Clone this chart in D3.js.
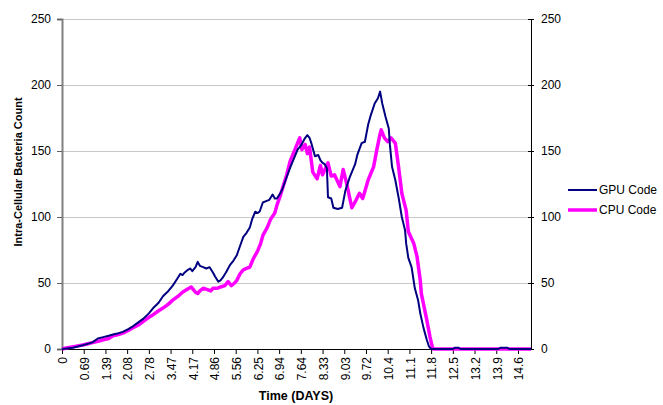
<!DOCTYPE html>
<html>
<head>
<meta charset="utf-8">
<script src="https://cdn.jsdelivr.net/npm/d3@7"></script>
<style>
  body { margin: 0; background: #fff; }
  text { font-family: "Liberation Sans", Arial, sans-serif; }
</style>
</head>
<body>
<div id="chart"></div>
<script>
// time axis is a category axis: one step = 50 minutes, label every 20 steps
var tickSteps = [0,20,40,60,80,100,120,140,160,180,200,220,240,260,280,300,320,340,360,380,400,420];
var tickLabels = ["0","0.69","1.39","2.08","2.78","3.47","4.17","4.86","5.56","6.25","6.94","7.64","8.33","9.03","9.72","10.4","11.1","11.8","12.5","13.2","13.9","14.6"];
var countTicks = [0,50,100,150,200,250];

var gpuStep  = [0,10,20,28,33,38,43,47,52,56,61,65,70,75,80,84,89,93,98,102,106,109,111,113,116,118,120,123,125,127,130,133,136,139,141,144,146,148,151,155,158,161,164,167,170,173,175,178,180,182,185,188,191,194,196,198,201,203,206,210,213,217,220,224,226,228,230,233,236,238,240,242,244,245,248,250,254,258,261,265,270,272,276,279,282,284,286,288,291,293,295,298,301,302,304,307,310,313,316,317,319,322,325,328,330,333,336,338,340,360,362,365,367,402,404,410,412,432];
var gpuCount = [0,1,3,5,8,9,10,11,12,13,15,17,20,23,27,31,35,40,44,48,53,57,56,58,60,61,59,62,66,63,62,61,62,58,55,51,52,54,58,64,67,71,78,85,88,92,98,104,103,104,111,112,113,117,114,114,118,121,128,137,143,151,154,160,162,160,155,146,147,143,141,140,137,115,114,107,106,107,120,130,140,147,156,157,170,176,181,186,190,195,186,176,167,155,138,128,115,100,90,80,69,62,46,37,27,16,7,2,0,0,1,1,0,0,1,1,0,0];

var cpuStep  = [0,5,12,19,24,29,34,38,43,47,52,56,61,65,70,75,80,84,89,93,98,102,107,111,115,119,121,123,125,127,130,134,137,139,143,146,150,153,156,159,161,164,167,170,173,176,180,183,185,189,192,196,198,201,204,207,210,215,218,219,221,224,226,228,231,235,238,240,245,248,251,256,259,262,267,271,274,277,282,287,290,293,294,297,300,303,307,310,313,317,319,324,327,330,331,334,336,339,341,342,432];
var cpuCount = [0,1,2,3,4,5,6,7,8,10,11,12,14,16,18,21,24,26,29,31,34,37,40,43,45,47,45,43,42,44,46,45,44,46,46,47,48,51,48,50,52,57,60,61,62,68,74,80,86,92,98,103,109,116,124,132,142,152,158,160,151,155,148,153,134,129,139,132,141,131,132,123,136,126,107,113,118,114,128,138,151,163,166,160,157,160,156,138,118,105,89,80,70,52,42,30,22,9,2,0,0];

var seriesNames = ["GPU Code", "CPU Code"];
var seriesColors = ["#000080", "#ff00ff"];
var seriesWidths = [2, 3.5];

var margin = {top: 19, right: 132, bottom: 56, left: 62};
var width = 663 - margin.left - margin.right, height = 405 - margin.top - margin.bottom;

var svg = d3.select('#chart')
    .append('svg')
    .attr('width', 663)
    .attr('height', 405)
    .append('g')
    .attr('transform', 'translate(' + margin.left + ',' + margin.top + ')');

var x = d3.scaleLinear()
    .domain([0, 432])
    .range([0, width]);
var y = d3.scaleLinear()
    .domain([0, 250])
    .range([height, 0]);

// gridlines
svg.append("g")
    .selectAll("line")
    .data(countTicks.slice(1))
    .enter().append("line")
    .attr("x1", 0).attr("x2", width)
    .attr("y1", function(d){ return y(d); })
    .attr("y2", function(d){ return y(d); })
    .attr("stroke", "#c8c8c8")
    .attr("stroke-width", 1)
    .attr("shape-rendering", "crispEdges");

// left axis (grey)
var left = svg.append("g")
    .call(d3.axisLeft(y).tickValues(countTicks).tickSize(5).tickPadding(6));
left.select(".domain").attr("stroke", "#808080").attr("stroke-width", 2);
left.selectAll(".tick line").attr("stroke", "#606060");
left.selectAll("text").attr("font-size", "12px").attr("fill", "#000");

// right axis
var right = svg.append("g")
    .attr("transform", "translate(" + width + ",0)")
    .call(d3.axisRight(y).tickValues(countTicks).tickSize(3).tickPadding(7));
right.select(".domain").attr("stroke", "#000");
right.selectAll(".tick line").attr("x1", -3).attr("stroke", "#000");
right.selectAll("text").attr("font-size", "12px").attr("fill", "#000");

// bottom axis
var bottom = svg.append("g")
    .attr("transform", "translate(0," + height + ")")
    .call(d3.axisBottom(x)
        .tickValues(tickSteps)
        .tickFormat(function(d, i){ return tickLabels[i]; })
        .tickSize(5)
        .tickSizeOuter(0));
bottom.select(".domain").attr("stroke", "#000");
bottom.selectAll(".tick line").attr("stroke", "#000");
bottom.selectAll("text")
    .attr("font-size", "12px")
    .attr("fill", "#000")
    .attr("transform", "rotate(-90)")
    .attr("text-anchor", "end")
    .attr("x", -8)
    .attr("y", 0)
    .attr("dy", "0.4em");

var line = d3.line()
    .x(function(d){ return x(d[0]); })
    .y(function(d){ return y(d[1]); });

var cpuData = d3.zip(cpuStep, cpuCount);
var gpuData = d3.zip(gpuStep, gpuCount);

svg.append("path")
    .datum(cpuData)
    .attr("fill", "none")
    .attr("stroke", seriesColors[1])
    .attr("stroke-width", seriesWidths[1])
    .attr("stroke-linejoin", "round")
    .attr("d", line);

svg.append("path")
    .datum(gpuData)
    .attr("fill", "none")
    .attr("stroke", seriesColors[0])
    .attr("stroke-width", seriesWidths[0])
    .attr("stroke-linejoin", "round")
    .attr("d", line);

// axis titles
svg.append("text")
    .attr("x", 296 - margin.left)
    .attr("y", 400 - margin.top)
    .attr("text-anchor", "middle")
    .attr("font-size", "12.5px")
    .attr("font-weight", "bold")
    .text("Time (DAYS)");

svg.append("text")
    .attr("transform", "translate(" + (22 - margin.left) + "," + (172 - margin.top) + ") rotate(-90)")
    .attr("text-anchor", "middle")
    .attr("font-size", "11px")
    .attr("font-weight", "bold")
    .text("Intra-Cellular Bacteria Count");

// legend
var legend = svg.append("g")
    .attr("transform", "translate(" + (568 - margin.left) + "," + (190 - margin.top) + ")");
seriesNames.forEach(function(name, i){
    legend.append("line")
        .attr("x1", 0).attr("x2", 29)
        .attr("y1", i * 20).attr("y2", i * 20)
        .attr("stroke", seriesColors[i])
        .attr("stroke-width", seriesWidths[i]);
    legend.append("text")
        .attr("x", 31)
        .attr("y", i * 20)
        .attr("dy", "0.35em")
        .attr("font-size", "12px")
        .text(name);
});
</script>
</body>
</html>
